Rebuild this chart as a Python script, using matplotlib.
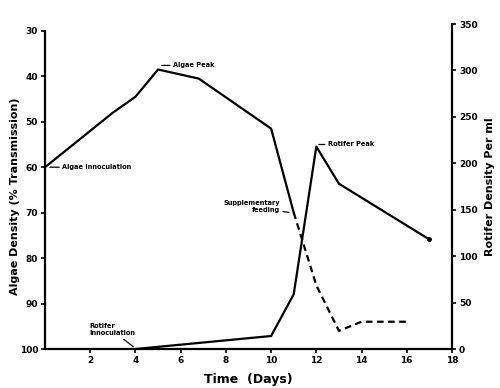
"""
Algae and rotifer density over time.
"""
import matplotlib.pyplot as plt

# algae density (% transmission), left axis, inverted
algae_days = [0, 3, 4, 5, 6.8, 10, 11]
algae_trans = [60, 48, 44.5, 38.5, 40.5, 51.5, 70]
# algae after supplementary feeding (dashed)
feed_days = [11, 12, 13, 14, 16]
feed_trans = [70, 86, 96, 94, 94]

# rotifer density per ml, right axis
rotifer_days = [4, 10, 11, 12, 13, 17]
rotifer_density = [0, 14, 59, 218, 178, 118]

xticks = [2, 4, 6, 8, 10, 12, 14, 16, 18]
left_ticks = [30, 40, 50, 60, 70, 80, 90, 100]
right_ticks = [0, 50, 100, 150, 200, 250, 300, 350]

bold = dict(fontweight="bold", family="DejaVu Sans")


def note(ax, text, xy, xytext, **kw):
    """Small bold label joined to a point by a plain line."""
    ax.annotate(
        text,
        xy=xy,
        xytext=xytext,
        fontsize=4.8,
        va="center",
        arrowprops=dict(arrowstyle="-", lw=0.9, color="k", shrinkA=0, shrinkB=1),
        **bold,
        **kw,
    )


fig = plt.figure(figsize=(5, 3.88), dpi=100)
ax = fig.add_axes([0.09, 0.1005, 0.814, 0.8375])
ax2 = ax.twinx()

ax.plot(algae_days, algae_trans, color="k", lw=1.6)
ax.plot(feed_days, feed_trans, color="k", lw=1.6, ls=(0, (3, 2)))
ax2.plot(rotifer_days, rotifer_density, color="k", lw=1.6)
ax2.plot(rotifer_days[-1:], rotifer_density[-1:], "ko", ms=2.5)

ax.set_xlim(0, 18)
ax.set_ylim(100, 28.5)
ax2.set_ylim(0, 350)

ax.set_xticks(xticks)
ax.set_yticks(left_ticks)
ax2.set_yticks(right_ticks)

# only one copy of each spine
ax.spines["right"].set_visible(False)
ax2.spines["left"].set_visible(False)
ax2.spines["bottom"].set_visible(False)
ax.spines["left"].set_bounds(30, 100)
for a in (ax, ax2):
    a.spines["top"].set_visible(False)
    for s in a.spines.values():
        s.set_linewidth(1.6)
    a.tick_params(width=1.2, length=3, labelsize=6.5, pad=2)
    for lab in a.get_xticklabels() + a.get_yticklabels():
        lab.set_fontweight("bold")

ax.set_xlabel("Time  (Days)", fontsize=9, labelpad=6, **bold)
ax.set_ylabel("Algae Density (% Transmission)", fontsize=8, **bold)
ax.yaxis.set_label_coords(-0.062, 0.47)
ax2.set_ylabel("Rotifer Density Per ml", fontsize=8, labelpad=5, **bold)

# annotations
note(ax, "Algae Peak", (5.1, 37.6), (5.65, 37.6))
note(ax, "Algae Innoculation", (0.15, 60), (0.75, 60))
note(ax, "Rotifer Peak", (12.05, 55), (12.5, 55))
note(ax, "Supplementary\nfeeding", (10.85, 70), (10.4, 68.7),
     ha="right", multialignment="right")
note(ax, "Rotifer\nInnoculation", (3.95, 99.7), (1.95, 95.8), ha="left")

fig.savefig("out.png", dpi=100)
